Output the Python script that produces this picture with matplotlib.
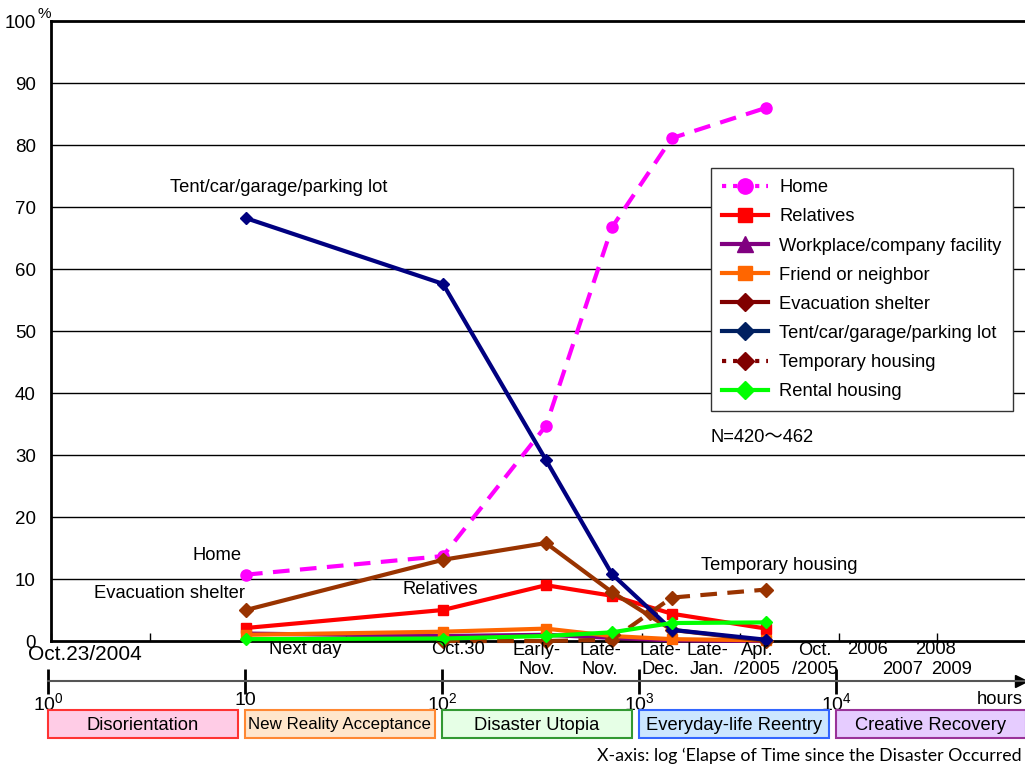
import matplotlib
matplotlib.use("Agg")
import matplotlib.pyplot as plt
import matplotlib.patches as mpatches
from matplotlib.lines import Line2D

plt.rcParams['font.family'] = ['Liberation Sans', 'Noto Sans CJK JP']
plt.rcParams['mathtext.fontset'] = 'custom'
plt.rcParams['mathtext.rm'] = 'Liberation Sans'
plt.rcParams['mathtext.it'] = 'Liberation Sans'

# data (hours since the quake, % of respondents)
hours = [10, 100, 333, 720, 1450, 4370]
home = [10.7, 13.7, 34.7, 66.7, 81.1, 86.0]
relatives = [2.1, 5.0, 9.0, 7.3, 4.4, 2.0]
workplace = [1.2, 0.8, 1.0, 0.5, 0.1, 0.0]
friend = [1.0, 1.5, 2.0, 0.8, 0.3, 0.1]
shelter = [5.0, 13.1, 15.8, 7.9, 1.8, 0.0]
tent = [68.2, 57.6, 29.2, 10.8, 1.8, 0.2]
temp_hours = [100, 333, 720, 1120, 1450, 4370]
temporary = [0.0, 0.0, 0.2, 4.5, 7.0, 8.3]
rental = [0.3, 0.4, 0.8, 1.4, 2.9, 3.0]

date_labels = ["Next day", "Oct.30", "Early-\nNov.", "Late-\nNov.", "Late-\nDec.",
               "Late-\nJan.", "Apr.\n/2005", "Oct.\n/2005", "2006", "2007", "2008", "2009"]
phases = ["Disorientation", "New Reality Acceptance", "Disaster Utopia",
          "Everyday-life Reentry", "Creative Recovery"]
phase_fill = ["#FFCCE6", "#FFE6CC", "#E6FFE6", "#CCE6FF", "#E6CCFF"]
phase_edge = ["#FF3333", "#FF8833", "#339933", "#3366FF", "#993399"]

W, H = 1025, 766
fig = plt.figure(figsize=(W / 100, H / 100), dpi=100)


def fx(x):
    return x / W


def fy(y):
    return 1 - y / H


dec = 197.0  # pixels per decade
ax = fig.add_axes([fx(51), fy(641), fx(W - 51), 620 / H])
ax.set_xscale('log')
x_lo = 10 ** (1 - 195 / dec)
ax.set_xlim(x_lo, x_lo * 10 ** ((W - 51) / dec))
ax.set_ylim(0, 100)

lw = 3
ax.plot(hours, home, color='#FF00FF', lw=lw, ls=(0, (4, 2.5)), marker='o', ms=8, clip_on=False, zorder=3)
ax.plot(hours, relatives, color='#FF0000', lw=lw, marker='s', ms=7, clip_on=False, zorder=3)
ax.plot(hours, workplace, color='#800080', lw=lw, marker='^', ms=5, clip_on=False, zorder=3)
ax.plot(hours, friend, color='#FF6600', lw=lw, marker='s', ms=7, clip_on=False, zorder=3)
ax.plot(hours, shelter, color='#993300', lw=lw, marker='D', ms=7, clip_on=False, zorder=3)
ax.plot(hours, tent, color='#000080', lw=lw, marker='D', ms=6, clip_on=False, zorder=4)
ax.plot(temp_hours, temporary, color='#993300', lw=lw, ls=(0, (4, 2.5)), marker='D', ms=7, clip_on=False, zorder=3)
ax.plot(hours, rental, color='#00FF00', lw=lw, marker='D', ms=6, clip_on=False, zorder=5)

# axes styling
ax.set_yticks(range(0, 101, 10))
ax.set_yticklabels([str(v) for v in range(0, 100, 10)] + ["100"], fontsize=13.5)
ax.tick_params(axis='y', length=0, pad=11)
for v in range(10, 100, 10):
    ax.axhline(v, color='black', lw=1, zorder=1)
for s in ['left', 'top', 'bottom']:
    ax.spines[s].set_linewidth(2)
ax.spines['right'].set_visible(False)
ax.set_xticks([x_lo * 10 ** (k / 2) for k in range(0, 10)])
ax.set_xticks([], minor=True)
ax.tick_params(axis='x', direction='in', length=6, width=1, labelbottom=False)
fig.text(fx(38), fy(14), "%", fontsize=11, ha='left', va='center')

# annotations in the plot
font = dict(fontsize=13.2, va='center')
fig.text(fx(170), fy(188), "Tent/car/garage/parking lot", **font)
fig.text(fx(193), fy(556), "Home", **font)
fig.text(fx(94), fy(594), "Evacuation shelter", **font)
fig.text(fx(403), fy(589), "Relatives", **font)
fig.text(fx(701), fy(566), "Temporary housing", **font)
fig.text(fx(711), fy(437), "N=420～462", **font)

# legend
handles = [
    Line2D([], [], color='#FF00FF', lw=3, ls=':', marker='o', ms=11),
    Line2D([], [], color='#FF0000', lw=3, marker='s', ms=10),
    Line2D([], [], color='#800080', lw=3, marker='^', ms=11),
    Line2D([], [], color='#FF6600', lw=3, marker='s', ms=10),
    Line2D([], [], color='#800000', lw=3, marker='D', ms=9),
    Line2D([], [], color='#002060', lw=3, marker='D', ms=9),
    Line2D([], [], color='#800000', lw=3, ls=':', marker='D', ms=9),
    Line2D([], [], color='#00FF00', lw=3, marker='D', ms=9),
]
labels = ["Home", "Relatives", "Workplace/company facility", "Friend or neighbor",
          "Evacuation shelter", "Tent/car/garage/parking lot", "Temporary housing", "Rental housing"]
leg = fig.legend(handles, labels, loc='upper left', bbox_to_anchor=(fx(711), fy(168)),
                 borderaxespad=0, fontsize=13.2, handlelength=2.5, labelspacing=0.66,
                 handletextpad=0.6, borderpad=0.62, fancybox=False, framealpha=1,
                 edgecolor='#333333')
leg.get_frame().set_linewidth(1)

# dates under the plot
fig.text(fx(85), fy(655), "Oct.23/2004", fontsize=15, ha='center', va='center')
date_pos = [(305, 650), (458, 650), (537, 660), (600, 660), (660, 660), (707, 660),
            (757, 660), (815, 660), (868, 650), (903, 669), (935, 650), (952, 669)]
for lab, (x, y) in zip(date_labels, date_pos):
    fig.text(fx(x), fy(y), lab, fontsize=13.2, ha='center', va='center', linespacing=1.2)

# time axis
tax = fig.add_axes([fx(48), fy(681), fx(W - 48), 0.001])
tax.set_xscale('log')
tax.set_xlim(1, 10 ** ((W - 48) / dec))
tax.set_yticks([])
for s in ['left', 'right', 'top']:
    tax.spines[s].set_visible(False)
tax.spines['bottom'].set_color('#555555')
tax.spines['bottom'].set_linewidth(1.5)
tax.set_xticks([1, 10, 100, 1000, 10000])
tax.set_xticklabels(['$10^0$', '10', '$10^2$', '$10^3$', '$10^4$'], fontsize=14)
tax.set_xticks([], minor=True)
tax.tick_params(axis='x', direction='inout', length=18, width=2, pad=-1)
tax.plot([10 ** ((W - 52) / dec)], [0], marker='>', color='black', ms=8, clip_on=False,
         transform=tax.get_xaxis_transform())
fig.text(fx(1023), fy(699), "hours", fontsize=13.2, ha='right', va='center')

# phase boxes
for k, (name, fc, ec) in enumerate(zip(phases, phase_fill, phase_edge)):
    x0 = 48 + dec * k
    fig.add_artist(mpatches.Rectangle((fx(x0), fy(738)), fx(190), 28 / H, transform=fig.transFigure,
                                      facecolor=fc, edgecolor=ec, lw=1.5))
    fig.text(fx(x0 + 95), fy(725), name, fontsize=13.2 if k != 1 else 12.2, ha='center', va='center')

fig.text(fx(1022), fy(756), "X-axis: log \u2018Elapse of Time since the Disaster Occurred",
         fontsize=12.8, ha='right', va='center', family=['Lato', 'DejaVu Sans'])

fig.savefig("out.png", dpi=100)
